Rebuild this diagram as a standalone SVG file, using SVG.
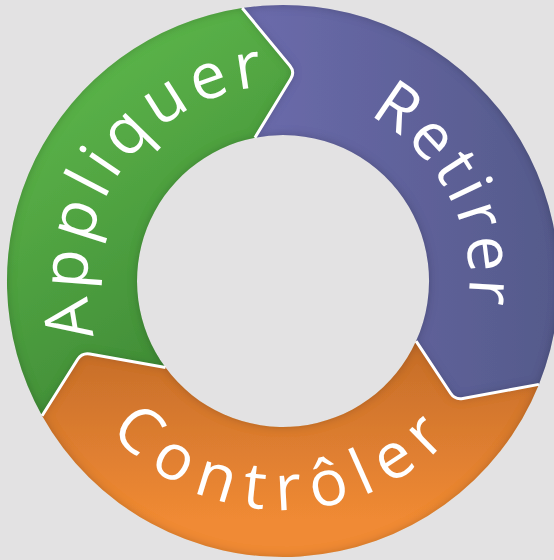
<svg xmlns="http://www.w3.org/2000/svg" width="554" height="560" viewBox="0 0 554 560">
  <style>
    .lbl { font-family: "Open Sans", "Liberation Sans", sans-serif; font-size: 64px; font-weight: 400; fill: #ffffff; }
    .sep { fill: none; stroke: #ffffff; stroke-width: 3; stroke-linejoin: round; stroke-linecap: butt; }
    .seg { filter: url(#inset); }
  </style>
  <defs>
    <linearGradient id="gGreen" gradientUnits="userSpaceOnUse" x1="60" y1="60" x2="250" y2="340">
      <stop offset="0" stop-color="#5db64a"/>
      <stop offset="1" stop-color="#3f8a36"/>
    </linearGradient>
    <linearGradient id="gPurple" gradientUnits="userSpaceOnUse" x1="260" y1="0" x2="554" y2="0">
      <stop offset="0" stop-color="#6a6aaa"/>
      <stop offset="1" stop-color="#555a8b"/>
    </linearGradient>
    <linearGradient id="gOrange" gradientUnits="userSpaceOnUse" x1="0" y1="345" x2="0" y2="520">
      <stop offset="0" stop-color="#c56d2a"/>
      <stop offset="1" stop-color="#f08a34"/>
    </linearGradient>
    <filter id="inset" x="-5%" y="-5%" width="110%" height="110%">
      <feGaussianBlur in="SourceAlpha" stdDeviation="5" result="blur"/>
      <feComposite in="SourceAlpha" in2="blur" operator="out" result="edge"/>
      <feFlood flood-color="#000000" flood-opacity="0.4"/>
      <feComposite in2="edge" operator="in" result="shadow"/>
      <feMerge>
        <feMergeNode in="SourceGraphic"/>
        <feMergeNode in="shadow"/>
      </feMerge>
    </filter>
    <path id="pAppliquer" d="M144.4,419.6 A196,196 0 0 1 365.8,103.4"/>
    <path id="pRetirer" d="M228.3,102.3 A187,187 0 0 1 396.3,429.6"/>
    <path id="pControler" d="M57.5,320.8 A229,229 0 0 0 508.5,320.8"/>
  </defs>

  <rect width="554" height="560" fill="#e3e2e3"/>

  <g id="node-appliquer">
    <path class="seg" fill="url(#gGreen)" d="M42.1,415.7 A276,276 0 0 1 242.2,8 L289.9,65.8 Q295,72 290.8,78.8 L254.9,137.7 A146,146 0 0 0 165.5,367.6 L89.9,353.9 Q82,352.5 77.7,359.3 Z"/>
    <text class="lbl" letter-spacing="6.5"><textPath href="#pAppliquer" startOffset="50%" text-anchor="middle">Appliquer</textPath></text>
  </g>

  <g id="node-retirer">
    <path class="seg" fill="url(#gPurple)" d="M242.2,8 A276,276 0 0 1 538.9,384.4 L462.9,398.5 Q455,400 450.6,393.3 L416.1,341.1 A146,146 0 0 0 254.9,137.7 L290.8,78.8 Q295,72 289.9,65.8 Z"/>
    <text class="lbl" letter-spacing="4"><textPath href="#pRetirer" startOffset="50%" text-anchor="middle">Retirer</textPath></text>
  </g>

  <g id="node-controler">
    <path class="seg" fill="url(#gOrange)" d="M538.9,384.4 A276,276 0 0 1 42.1,415.7 L77.7,359.3 Q82,352.5 89.9,353.9 L165.5,367.6 A146,146 0 0 0 416.1,341.1 L450.6,393.3 Q455,400 462.9,398.5 Z"/>
    <text class="lbl" letter-spacing="12"><textPath href="#pControler" startOffset="50%" text-anchor="middle">Contrôler</textPath></text>
  </g>

  <g id="separators">
    <path class="sep" d="M242.2,8 L289.9,65.8 Q295,72 290.8,78.8 L254.9,137.7"/>
    <path class="sep" d="M538.9,384.4 L462.9,398.5 Q455,400 450.6,393.3 L416.1,341.1"/>
    <path class="sep" d="M42.1,415.7 L77.7,359.3 Q82,352.5 89.9,353.9 L165.5,367.6"/>
  </g>
</svg>
